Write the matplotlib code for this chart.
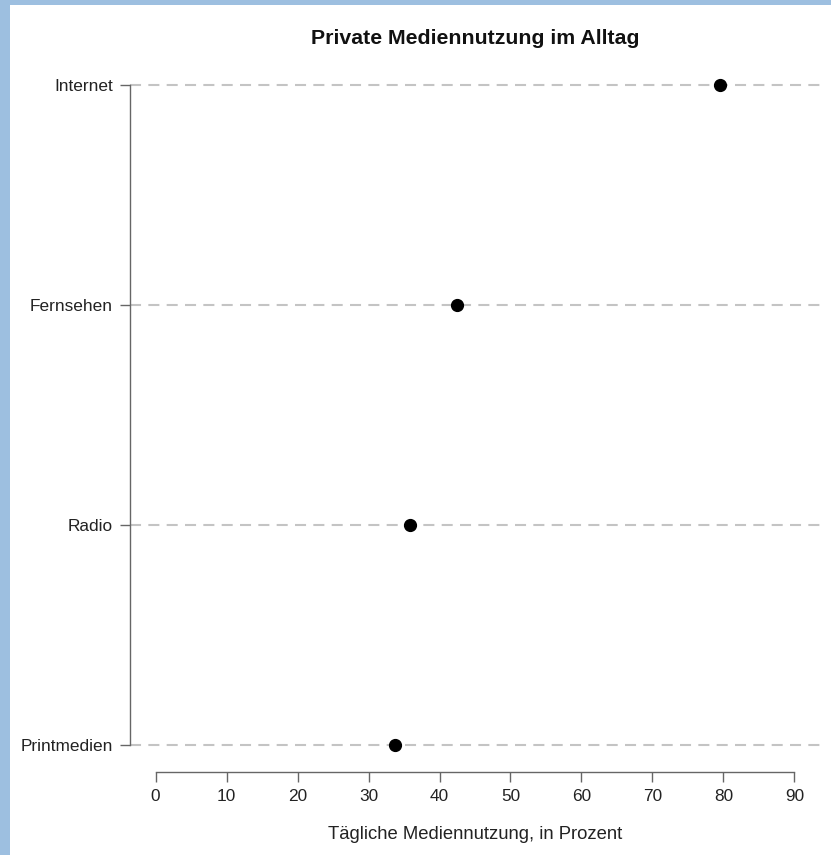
import matplotlib
matplotlib.use('Agg')
import matplotlib.pyplot as plt
import matplotlib.patches as mp

plt.rcParams['font.family'] = ['Liberation Sans', 'DejaVu Sans']

# ─── Daten ───
kategorien = ['Printmedien', 'Radio', 'Fernsehen', 'Internet']
werte = [33.8, 35.8, 42.5, 79.5]
x_ticks = [0, 10, 20, 30, 40, 50, 60, 70, 80, 90]

fig = plt.figure(figsize=(8.31, 8.55), dpi=100)
fig.patch.set_facecolor('#9dbfe0')
# weisses Panel (blauer Rand links/oben)
fig.patches.append(mp.Rectangle((10 / 831, 0), 821 / 831, 850 / 855,
                                transform=fig.transFigure, facecolor='white',
                                edgecolor='none', zorder=-10))

ax = fig.add_axes([130 / 831, (855 - 771) / 855, 690 / 831, 712 / 855])
ax.set_zorder(5)
ax.set_facecolor('none')

pos = list(range(1, len(kategorien) + 1))
for y in pos:
    ax.axhline(y, color='#c4c4c4', lw=1.5, linestyle=(0, (5.3, 3.5)), zorder=1)
ax.plot(werte, pos, 'o', color='black', markersize=8.5, zorder=3)

ax.set_xlim(-3.6, 93.6)
ax.set_ylim(0.88, 4.12)

for s in ['top', 'right']:
    ax.spines[s].set_visible(False)
ax.spines['left'].set_bounds(1, 4)
ax.spines['bottom'].set_bounds(0, 90)
ax.spines['bottom'].set_position(('outward', 1))
for s in ['left', 'bottom']:
    ax.spines[s].set_color('#666666')
    ax.spines[s].set_linewidth(1.0)

ax.set_yticks(pos)
ax.set_yticklabels(kategorien)
ax.set_xticks(x_ticks)
ax.tick_params(axis='both', colors='#666666', length=7.2, width=1.0,
               labelcolor='#222222', labelsize=12.4)
ax.tick_params(axis='x', pad=5)
ax.tick_params(axis='y', pad=5)

ax.set_title('Private Mediennutzung im Alltag', fontsize=15.3, fontweight='bold',
             color='#111111', pad=11)
ax.set_xlabel('Tägliche Mediennutzung, in Prozent', fontsize=13.3, color='#222222',
              labelpad=15.5)

fig.savefig('out.png', dpi=100, facecolor=fig.get_facecolor())
